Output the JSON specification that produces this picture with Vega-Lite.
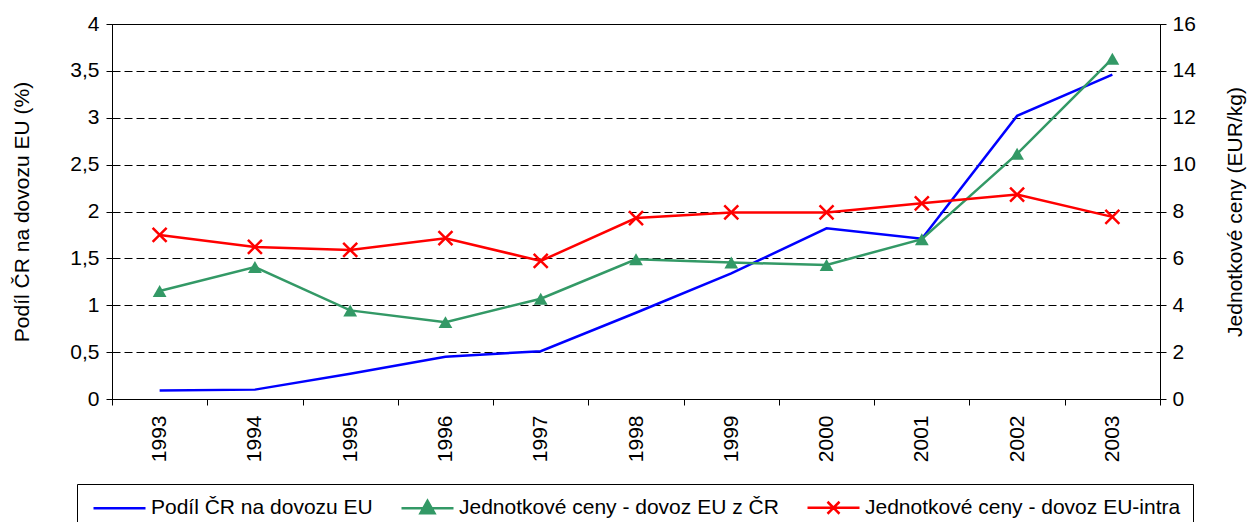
{
  "$schema": "https://vega.github.io/schema/vega-lite/v6.json",
  "width": 1048,
  "height": 375,
  "autosize": {"type": "none"},
  "padding": {"left": 112, "top": 24, "right": 94, "bottom": 123},
  "background": "white",
  "config": {
    "font": "Liberation Sans",
    "view": {"stroke": "black", "strokeWidth": 1},
    "axis": {
      "domainColor": "black",
      "tickColor": "black",
      "labelColor": "black",
      "titleColor": "black",
      "labelFontSize": 21,
      "titleFontSize": 21,
      "titleFontWeight": "normal",
      "tickSize": 6,
      "domainWidth": 1,
      "tickWidth": 1
    }
  },
  "data": {
    "values": [
      {"year": "1993", "series": "Podíl ČR na dovozu EU", "value": 0.09},
      {"year": "1994", "series": "Podíl ČR na dovozu EU", "value": 0.1},
      {"year": "1995", "series": "Podíl ČR na dovozu EU", "value": 0.27},
      {"year": "1996", "series": "Podíl ČR na dovozu EU", "value": 0.45},
      {"year": "1997", "series": "Podíl ČR na dovozu EU", "value": 0.51},
      {"year": "1998", "series": "Podíl ČR na dovozu EU", "value": 0.92},
      {"year": "1999", "series": "Podíl ČR na dovozu EU", "value": 1.34},
      {"year": "2000", "series": "Podíl ČR na dovozu EU", "value": 1.82},
      {"year": "2001", "series": "Podíl ČR na dovozu EU", "value": 1.71},
      {"year": "2002", "series": "Podíl ČR na dovozu EU", "value": 3.02},
      {"year": "2003", "series": "Podíl ČR na dovozu EU", "value": 3.46},
      {"year": "1993", "series": "Jednotkové ceny - dovoz EU z ČR", "value": 4.61},
      {"year": "1994", "series": "Jednotkové ceny - dovoz EU z ČR", "value": 5.63},
      {"year": "1995", "series": "Jednotkové ceny - dovoz EU z ČR", "value": 3.78},
      {"year": "1996", "series": "Jednotkové ceny - dovoz EU z ČR", "value": 3.28},
      {"year": "1997", "series": "Jednotkové ceny - dovoz EU z ČR", "value": 4.28},
      {"year": "1998", "series": "Jednotkové ceny - dovoz EU z ČR", "value": 5.96},
      {"year": "1999", "series": "Jednotkové ceny - dovoz EU z ČR", "value": 5.82},
      {"year": "2000", "series": "Jednotkové ceny - dovoz EU z ČR", "value": 5.72},
      {"year": "2001", "series": "Jednotkové ceny - dovoz EU z ČR", "value": 6.82},
      {"year": "2002", "series": "Jednotkové ceny - dovoz EU z ČR", "value": 10.46},
      {"year": "2003", "series": "Jednotkové ceny - dovoz EU z ČR", "value": 14.52},
      {"year": "1993", "series": "Jednotkové ceny - dovoz EU-intra", "value": 7.0},
      {"year": "1994", "series": "Jednotkové ceny - dovoz EU-intra", "value": 6.49},
      {"year": "1995", "series": "Jednotkové ceny - dovoz EU-intra", "value": 6.36},
      {"year": "1996", "series": "Jednotkové ceny - dovoz EU-intra", "value": 6.86},
      {"year": "1997", "series": "Jednotkové ceny - dovoz EU-intra", "value": 5.89},
      {"year": "1998", "series": "Jednotkové ceny - dovoz EU-intra", "value": 7.72},
      {"year": "1999", "series": "Jednotkové ceny - dovoz EU-intra", "value": 7.96},
      {"year": "2000", "series": "Jednotkové ceny - dovoz EU-intra", "value": 7.96},
      {"year": "2001", "series": "Jednotkové ceny - dovoz EU-intra", "value": 8.35},
      {"year": "2002", "series": "Jednotkové ceny - dovoz EU-intra", "value": 8.72},
      {"year": "2003", "series": "Jednotkové ceny - dovoz EU-intra", "value": 7.77}
    ]
  },
  "encoding": {
    "x": {
      "field": "year",
      "type": "ordinal",
      "bandPosition": 0.5,
      "scale": {"type": "band", "paddingInner": 0, "paddingOuter": 0},
      "axis": {
        "title": null,
        "tickBand": "extent",
        "labelAngle": -90,
        "labelPadding": 10,
        "grid": false
      }
    }
  },
  "layer": [
    {
      "transform": [{"filter": "datum.series === 'Podíl ČR na dovozu EU'"}],
      "mark": {"type": "line", "strokeWidth": 2.5},
      "encoding": {
        "y": {
          "field": "value",
          "type": "quantitative",
          "scale": {"domain": [0, 4]},
          "axis": {
            "orient": "left",
            "values": [0, 0.5, 1, 1.5, 2, 2.5, 3, 3.5, 4],
            "labelExpr": "replace(format(datum.value, '.1~f'), '.', ',')",
            "title": "Podíl ČR na dovozu EU (%)",
            "titlePadding": 37,
            "labelPadding": 7,
            "grid": true,
            "gridColor": "black",
            "gridDash": [8, 4],
            "gridWidth": 1,
            "gridOpacity": 1
          }
        },
        "color": {
          "field": "series",
          "type": "nominal",
          "scale": {
            "domain": ["Podíl ČR na dovozu EU", "Jednotkové ceny - dovoz EU z ČR", "Jednotkové ceny - dovoz EU-intra"],
            "range": ["#0000FF", "#339966", "#FF0000"]
          },
          "legend": {
            "title": null,
            "orient": "none",
            "legendX": -35,
            "legendY": 460,
            "direction": "horizontal",
            "columns": 3,
            "strokeColor": "black",
            "fillColor": "white",
            "padding": 12,
            "symbolSize": 400,
            "symbolStrokeWidth": 2.5,
            "labelFontSize": 21,
            "labelColor": "black",
            "labelOffset": 39,
            "columnPadding": 23,
            "labelLimit": 500,
            "encode": {
              "symbols": {
                "update": {
                  "shape": {"signal": "datum.index === 1 ? 'M-0.7,0H4.5M1.9,-0.75L2.6,0.5L1.2,0.5Z' : (datum.index === 2 ? 'M-0.7,0H4.5M1.3,-0.6L2.5,0.6M1.3,0.6L2.5,-0.6' : 'M-0.7,0H4.5')"},
                  "fill": {"signal": "datum.index === 1 ? '#339966' : 'transparent'"},
                  "stroke": {"signal": "datum.index === 1 ? '#339966' : (datum.index === 2 ? '#FF0000' : '#0000FF')"},
                  "strokeWidth": {"value": 2.5},
                  "opacity": {"value": 1}
                }
              }
            }
          }
        }
      }
    },
    {
      "transform": [{"filter": "datum.series !== 'Podíl ČR na dovozu EU'"}],
      "encoding": {
        "y": {
          "field": "value",
          "type": "quantitative",
          "scale": {"domain": [0, 16]},
          "axis": {
            "orient": "right",
            "values": [0, 2, 4, 6, 8, 10, 12, 14, 16],
            "title": "Jednotkové ceny (EUR/kg)",
            "titleAngle": -90,
            "titleBaseline": "bottom",
            "titlePadding": 50,
            "labelPadding": 6,
            "grid": false
          }
        }
      },
      "layer": [
        {
          "mark": {"type": "line", "strokeWidth": 2.5},
          "encoding": {"color": {"field": "series", "type": "nominal"}}
        },
        {
          "transform": [{"filter": "datum.series === 'Jednotkové ceny - dovoz EU z ČR'"}],
          "mark": {"type": "point", "shape": "triangle-up", "filled": true, "size": 190, "color": "#339966", "opacity": 1}
        },
        {
          "transform": [{"filter": "datum.series === 'Jednotkové ceny - dovoz EU-intra'"}],
          "mark": {"type": "point", "shape": "M-1,-1L1,1M-1,1L1,-1", "filled": false, "size": 196, "color": "#FF0000", "strokeWidth": 2.5, "opacity": 1}
        }
      ]
    }
  ],
  "resolve": {"scale": {"y": "independent"}}
}
